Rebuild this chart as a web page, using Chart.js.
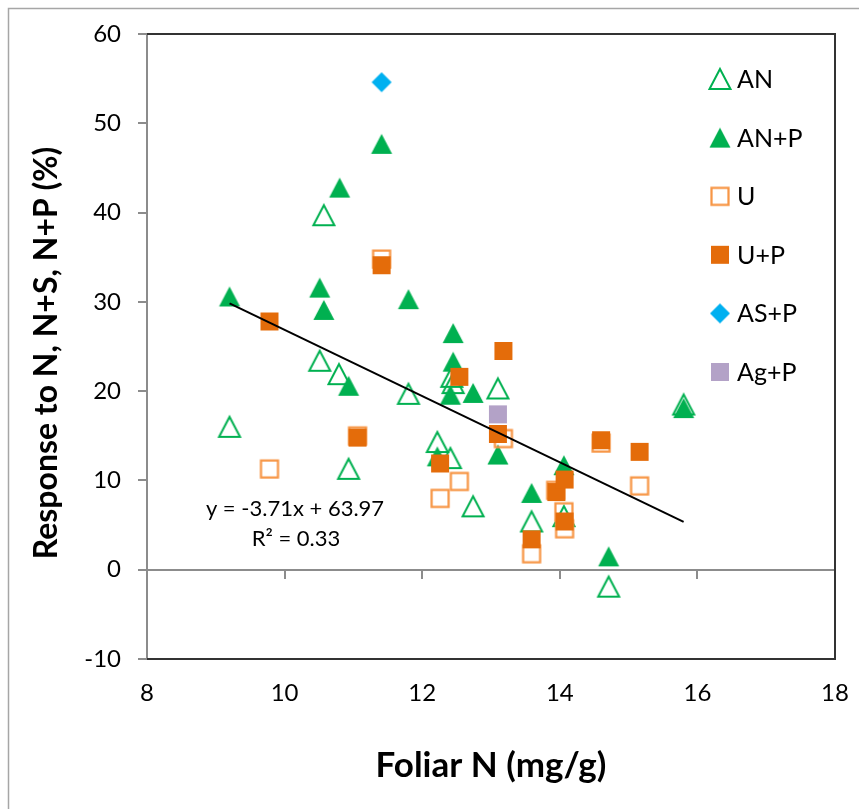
<!DOCTYPE html>
<html>
<head>
<meta charset="utf-8">
<script src="https://cdn.jsdelivr.net/npm/chart.js@4.4.0/dist/chart.umd.min.js"></script>
<style>
  html, body { margin: 0; padding: 0; background: #fff; }
  #wrap { width: 859px; height: 809px; }
</style>
</head>
<body>
<div id="wrap"><canvas id="grafico" width="859" height="809"></canvas></div>
<script>
// Foliar N (mg/g) against response (%) for each fertiliser treatment
const anX = [10.57, 10.51, 10.79, 9.20, 10.93, 11.80, 12.22, 12.41, 12.43, 12.45, 12.74, 13.10, 13.59, 14.06, 14.71, 15.80];
const anY = [39.7, 23.4, 21.9, 16.0, 11.3, 19.7, 14.3, 12.5, 21.6, 20.9, 7.1, 20.3, 5.4, 6.0, -1.9, 18.5];

const anpX = [11.41, 10.80, 10.51, 9.20, 11.80, 10.57, 10.93, 12.45, 12.45, 12.41, 12.74, 13.10, 12.22, 13.59, 14.06, 14.71, 15.80];
const anpY = [47.7, 42.8, 31.6, 30.6, 30.3, 29.1, 20.6, 26.5, 23.3, 19.6, 19.8, 12.9, 12.7, 8.6, 11.7, 1.5, 18.1];

const uX = [11.41, 11.06, 9.78, 12.54, 12.26, 13.18, 13.94, 14.06, 14.07, 13.59, 14.60, 15.16];
const uY = [34.8, 15.0, 11.3, 9.9, 8.0, 14.7, 8.9, 6.5, 4.6, 1.8, 14.2, 9.4];

const upX = [11.41, 9.78, 11.06, 12.54, 13.18, 13.10, 12.26, 13.95, 14.07, 14.07, 13.59, 14.60, 15.16];
const upY = [34.1, 27.8, 14.8, 21.6, 24.5, 15.2, 11.9, 8.7, 10.1, 5.4, 3.4, 14.5, 13.2];

const aspX = [11.41];
const aspY = [54.6];

const agpX = [13.10];
const agpY = [17.4];

// linear fit shown on the chart
const trendSlope = -3.71;
const trendIntercept = 63.97;
const trendR2 = 0.33;

const xTicks = [8, 10, 12, 14, 16, 18];
const yTicks = [-10, 0, 10, 20, 30, 40, 50, 60];

const FONT = 'Lato';
const GREEN = '#00B050';
const ORANGE = '#E46C0A';
const ORANGE_LIGHT = '#F79646';
const AXIS_GREY = '#8c8c8c';
const Y_TITLE = 'Response to N, N+S, N+P (%)';

function pts(xs, ys) {
    return xs.map((x, i) => ({ x: x, y: ys[i] }));
}

// small canvases used as point styles (Excel-like markers)
function marker(shape, fill, stroke, lw) {
    const c = document.createElement('canvas');
    c.width = 26; c.height = 26;
    const g = c.getContext('2d');
    const m = 13;
    g.beginPath();
    if (shape === 'tri') {
        g.moveTo(m, m - 10);
        g.lineTo(m + 10.5, m + 10);
        g.lineTo(m - 10.5, m + 10);
        g.closePath();
    } else if (shape === 'sq') {
        const h = stroke ? 8.5 : 9;
        g.rect(m - h, m - h, 2 * h, 2 * h);
    } else if (shape === 'dia') {
        g.moveTo(m, m - 10);
        g.lineTo(m + 10, m);
        g.lineTo(m, m + 10);
        g.lineTo(m - 10, m);
        g.closePath();
    }
    if (fill) { g.fillStyle = fill; g.fill(); }
    if (stroke) { g.strokeStyle = stroke; g.lineWidth = lw || 2; g.stroke(); }
    return c;
}

const series = [
    { label: 'AN',   data: pts(anX, anY),   style: marker('tri', null, GREEN, 2) },
    { label: 'AN+P', data: pts(anpX, anpY), style: marker('tri', GREEN) },
    { label: 'U',    data: pts(uX, uY),     style: marker('sq', null, ORANGE_LIGHT, 2.25) },
    { label: 'U+P',  data: pts(upX, upY),   style: marker('sq', ORANGE) },
    { label: 'AS+P', data: pts(aspX, aspY), style: marker('dia', '#00B0F0') },
    { label: 'Ag+P', data: pts(agpX, agpY), style: marker('sq', '#B3A2C7') }
];

const allX = [].concat(anX, anpX, uX, upX, aspX, agpX);
const xLo = Math.min(...allX);
const xHi = Math.max(...allX);

const datasets = series.map((s, i) => ({
    label: s.label,
    data: s.data,
    pointStyle: s.style,
    pointRadius: 10,
    pointHoverRadius: 10,
    order: series.length - i
}));

datasets.push({
    label: 'trend',
    type: 'line',
    data: [
        { x: xLo, y: trendSlope * xLo + trendIntercept },
        { x: xHi, y: trendSlope * xHi + trendIntercept }
    ],
    borderColor: '#000',
    borderWidth: 2,
    pointRadius: 0,
    fill: false,
    order: 0
});

// frame, legend, y title and fit equation
const decor = {
    id: 'decor',
    beforeDraw(chart) {
        const ctx = chart.ctx;
        ctx.save();
        ctx.strokeStyle = '#a6a6a6';
        ctx.lineWidth = 1.5;
        ctx.strokeRect(8.5, 8.5, 1000, 1000);
        ctx.restore();
    },
    beforeDatasetsDraw(chart) {
        const a = chart.chartArea;
        const ctx = chart.ctx;
        ctx.save();
        ctx.strokeStyle = '#333';
        ctx.lineWidth = 2;
        ctx.beginPath();
        ctx.moveTo(a.left, a.top);
        ctx.lineTo(a.right, a.top);
        ctx.lineTo(a.right, a.bottom);
        ctx.lineTo(a.left, a.bottom);
        ctx.stroke();
        ctx.restore();
    },
    afterDraw(chart) {
        const ctx = chart.ctx;
        ctx.save();
        // y axis title
        ctx.save();
        ctx.translate(47, 353);
        ctx.rotate(-Math.PI / 2);
        ctx.font = 'bold 32px ' + FONT;
        ctx.fillStyle = '#000';
        ctx.textAlign = 'center';
        ctx.textBaseline = 'middle';
        ctx.fillText(Y_TITLE, 0, 0);
        ctx.restore();
        // legend
        ctx.font = '25px ' + FONT;
        ctx.fillStyle = '#000';
        ctx.textBaseline = 'middle';
        ctx.textAlign = 'left';
        series.forEach((s, i) => {
            const y = 79 + i * 58.6;
            ctx.drawImage(s.style, 720 - 13, y - 13);
            ctx.fillText(s.label, 737, y + 1);
        });
        // fit equation
        ctx.font = '22px ' + FONT;
        ctx.textAlign = 'center';
        const sign = trendIntercept < 0 ? '-' : '+';
        ctx.fillText('y = ' + trendSlope.toFixed(2) + 'x ' + sign + ' ' + Math.abs(trendIntercept).toFixed(2), 295, 509);
        ctx.fillText('R\u00B2 = ' + trendR2.toFixed(2), 296, 539);
        ctx.restore();
    }
};

function fixedTicks(list) {
    return scale => { scale.ticks = list.map(v => ({ value: v })); };
}

new Chart(document.getElementById('grafico'), {
    type: 'scatter',
    data: { datasets: datasets },
    options: {
        responsive: false,
        animation: false,
        layout: { padding: { top: 34, right: 24, left: 0, bottom: 0 } },
        plugins: {
            legend: { display: false },
            tooltip: { enabled: false }
        },
        scales: {
            x: {
                type: 'linear',
                position: 'bottom',
                min: 8, max: 18,
                afterBuildTicks: fixedTicks(xTicks),
                // tick marks hidden; their length only pushes the labels down
                grid: { display: false, drawTicks: true, tickLength: 20 },
                border: { display: false },
                ticks: { font: { family: FONT, size: 24 }, color: '#000', padding: 0, maxRotation: 0 },
                title: {
                    display: true,
                    text: 'Foliar N (mg/g)',
                    color: '#000',
                    font: { family: FONT, size: 35, weight: 'bold' },
                    padding: { top: 0, bottom: 22 }
                },
                afterFit: s => { s.height = 150; }
            },
            xZero: {
                type: 'linear',
                position: { y: 0 },
                min: 8, max: 18,
                afterBuildTicks: fixedTicks(xTicks),
                grid: { drawOnChartArea: false, color: AXIS_GREY, lineWidth: 2, tickLength: 8 },
                border: { color: AXIS_GREY, width: 2 },
                ticks: { display: false }
            },
            y: {
                type: 'linear',
                min: -10, max: 60,
                afterBuildTicks: fixedTicks(yTicks),
                grid: { drawOnChartArea: false, color: AXIS_GREY, lineWidth: 2, tickLength: 9 },
                border: { color: AXIS_GREY, width: 2 },
                ticks: { font: { family: FONT, size: 24 }, color: '#000', padding: 17 },
                afterFit: s => { s.width = 147; }
            }
        }
    },
    plugins: [decor]
});
</script>
</body>
</html>
